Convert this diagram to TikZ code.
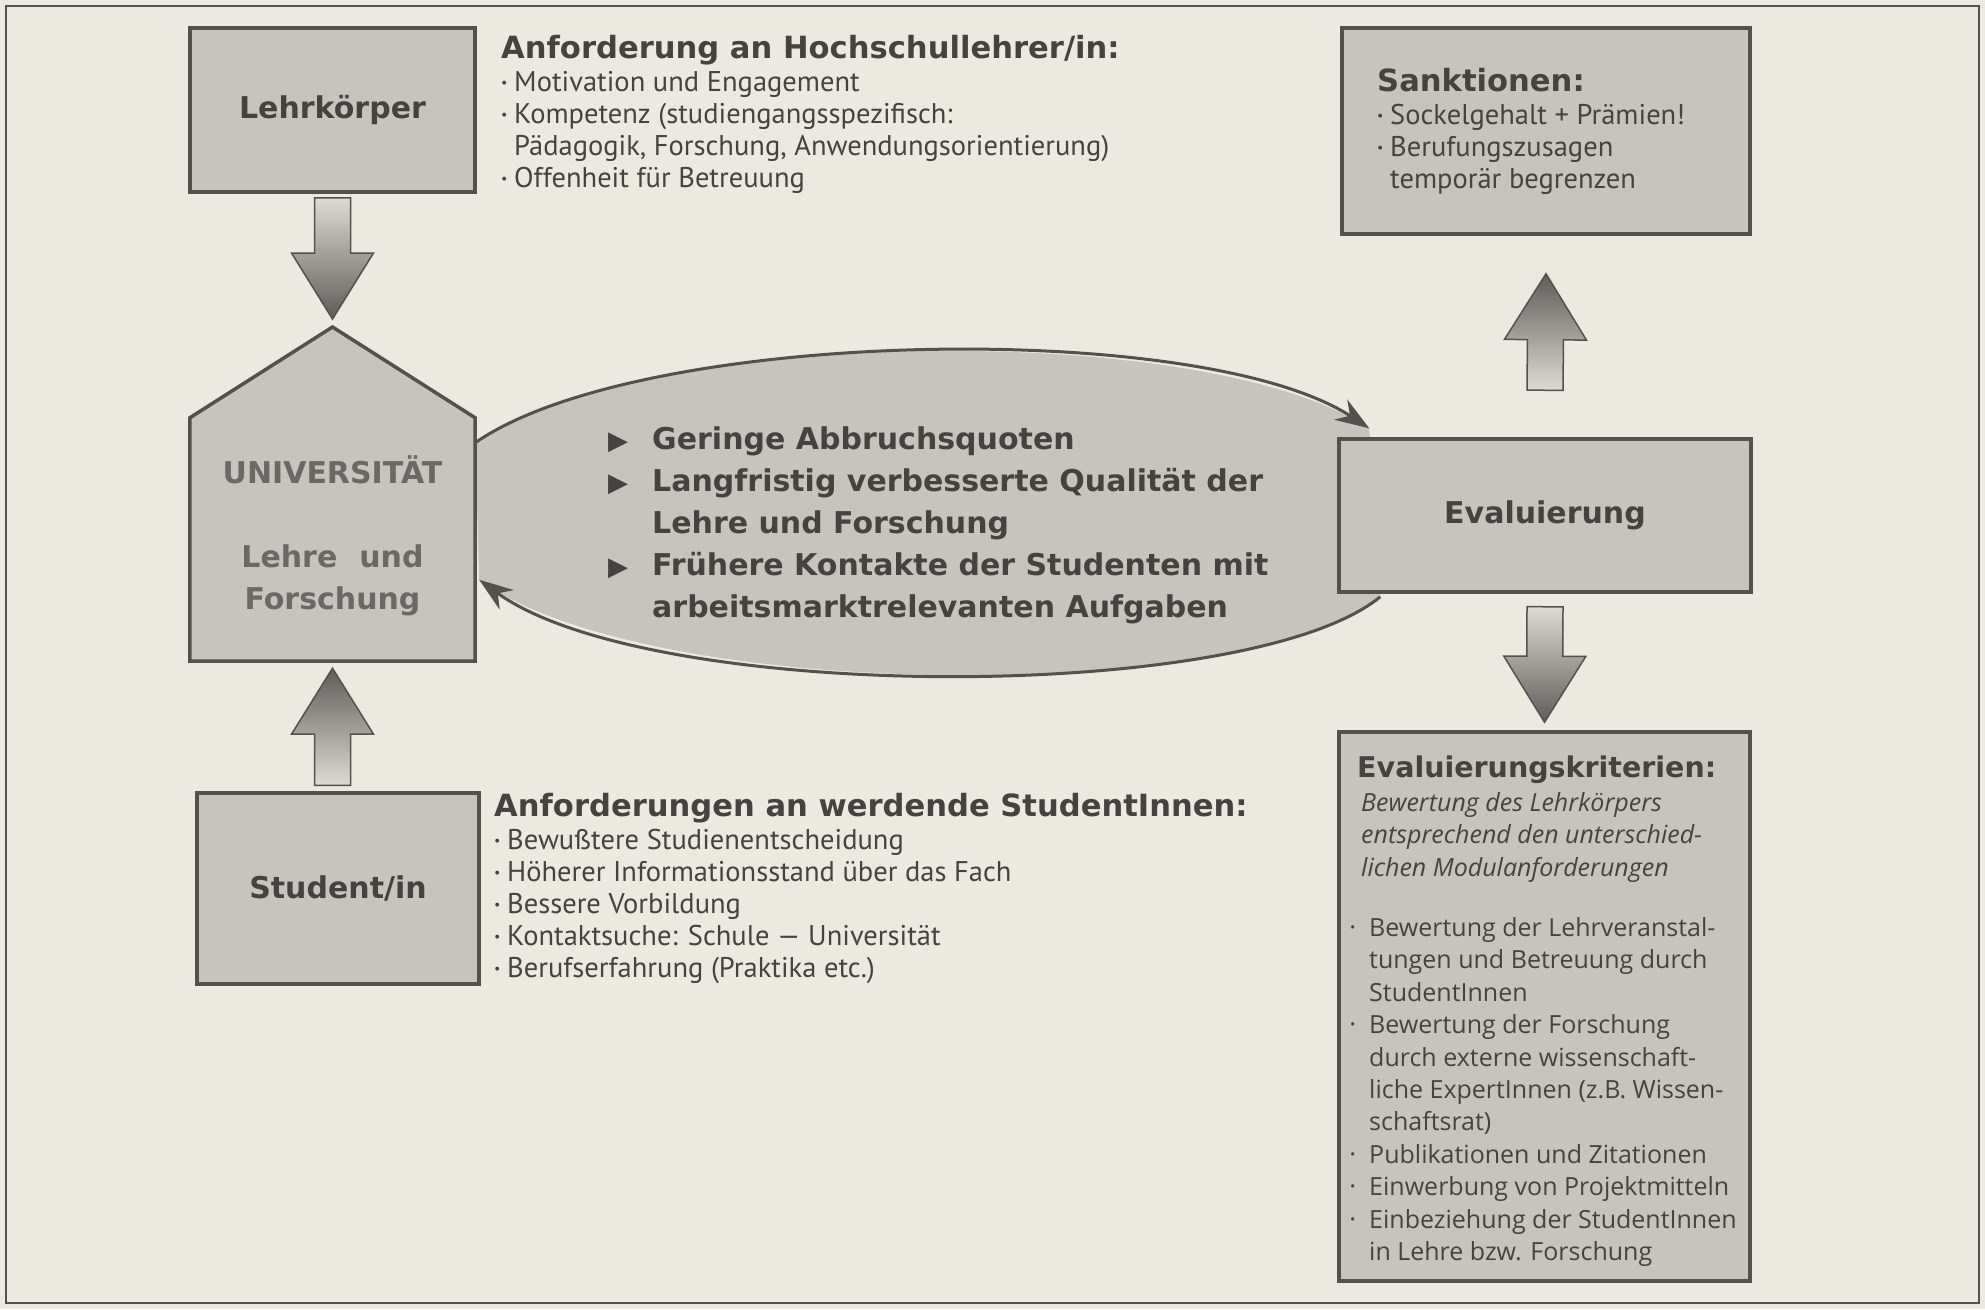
\documentclass[tikz,border=0pt]{standalone}
\usepackage{fontspec}
\setmainfont{PT Sans}
\newfontfamily\widefont{Open Sans}
\newfontfamily\symfont{DejaVu Sans}
\newfontfamily\boldfam{DejaVu Sans}
\usetikzlibrary{calc,arrows.meta,backgrounds}
\definecolor{paper}{HTML}{ECE9E0}
\definecolor{boxfill}{HTML}{C7C4BD}
\definecolor{ink}{HTML}{454340}
\definecolor{edge}{HTML}{53504D}
\definecolor{housetext}{HTML}{6B6865}
\definecolor{arrowlight}{HTML}{DEDBD5}
\definecolor{arrowdark}{HTML}{5F5C59}
\newcommand\headf{\boldfam\bfseries\fontsize{30.6}{34}\selectfont}
\newcommand\bul{\makebox[13pt][l]{\raisebox{0.3ex}{\fontsize{14}{14}\selectfont•}}}
\newcommand\ind{\hspace*{13pt}}
\newcommand\kbul{\makebox[19pt][l]{\raisebox{0.3ex}{\fontsize{14}{14}\selectfont•}}}
\newcommand\kind{\hspace*{19pt}}
\newcommand\tri{\makebox[44pt][l]{{\symfont\fontsize{26}{26}\selectfont ▶}}}
\newcommand\tind{\hspace*{44pt}}
\newcommand{\blockarrow}[3]{%
  \coordinate (ba-h) at ($(#2)!66pt!(#1)$);
  \path[draw=edge, line width=1.5pt, #3]
    ($(#1)!18pt!90:(#2)$) -- ($(ba-h)!18pt!90:(#2)$) -- ($(ba-h)!41pt!90:(#2)$) -- (#2)
    -- ($(ba-h)!41pt!-90:(#2)$) -- ($(ba-h)!18pt!-90:(#2)$) -- ($(#1)!18pt!-90:(#2)$) -- cycle;
}
\begin{document}
\begin{tikzpicture}[x=1pt,y=-1pt,
  boxstyle/.style={rectangle, draw=edge, line width=3.5pt, fill=boxfill, inner sep=0pt, text=ink},
  boxlabel/.style={font=\boldfam\bfseries\fontsize{30}{36}\selectfont, text=ink},
  txt/.style={anchor=north west, inner sep=0pt, align=left, text=ink, font=\fontsize{28.5}{32}\selectfont},
  flow/.style={draw=edge, line width=3pt, -{Stealth[length=34pt,width=24pt]}},
  downshade/.style={top color=arrowlight, bottom color=arrowdark},
  upshade/.style={top color=arrowdark, bottom color=arrowlight},
]
\useasboundingbox (0,0) rectangle (1985,1309);
\begin{scope}[on background layer]
  \fill[paper] (0,0) rectangle (1985,1309);
\end{scope}
\draw[edge, line width=2pt] (6,6) rectangle (1979,1303);

% boxes
\node[boxstyle, boxlabel, minimum width=285pt, minimum height=164pt] (lehr) at (332.5,110) {Lehrkörper};
\node[rectangle, inner sep=0pt, minimum width=285pt, minimum height=243pt] (uni) at (332.5,539.5) {};
\coordinate (uniapex) at (332.5,327);
\draw[draw=edge, line width=3.5pt, fill=boxfill, line join=miter]
  (uni.south west) -- (uni.north west) -- (uniapex) -- (uni.north east) -- (uni.south east) -- cycle;
\node[anchor=north, inner sep=0pt, align=center, text=housetext,
      font=\boldfam\bfseries\fontsize{30}{42}\selectfont] (unitext) at (332.5,455)
  {UNIVERSITÄT\\[42pt]Lehre\hspace{22pt}und\\Forschung};
\node[boxstyle, boxlabel, minimum width=282pt, minimum height=191pt] (student) at (338,888.5) {Student/in};
\node[boxstyle, minimum width=408pt, minimum height=206pt] (sank) at (1546,131) {};
\node[boxstyle, boxlabel, minimum width=412pt, minimum height=153pt] (eval) at (1545,515.5) {Evaluierung};
\node[boxstyle, minimum width=411pt, minimum height=549pt] (krit) at (1544.5,1006.5) {};

% text blocks
\node[txt] (hoch) at (501,35) {%
  {\headf Anforderung an Hochschullehrer/in:}\\[1pt]
  \bul Motivation und Engagement\\
  \bul Kompetenz (studiengangsspezifisch:\\
  \ind Pädagogik, Forschung, Anwendungsorientierung)\\
  \bul Offenheit für Betreuung};
\node[txt] (stud) at (494,793) {%
  {\headf Anforderungen an werdende StudentInnen:}\\[1pt]
  \bul Bewußtere Studienentscheidung\\
  \bul Höherer Informationsstand über das Fach\\
  \bul Bessere Vorbildung\\
  \bul Kontaktsuche: Schule — Universität\\
  \bul Berufserfahrung (Praktika etc.)};
\node[txt] (sanktext) at (1377,68) {%
  {\headf Sanktionen:}\\[1pt]
  \bul Sockelgehalt + Prämien!\\
  \bul Berufungszusagen\\
  \ind temporär begrenzen};
\node[txt, font=\widefont\fontsize{25}{32.4}\selectfont] (krittext) at (1350,756) {%
  \hspace*{7pt}{\boldfam\bfseries\fontsize{28.5}{32}\selectfont Evaluierungskriterien:}\\[1pt]
  \hspace*{11pt}\itshape Bewertung des Lehrkörpers\\
  \hspace*{11pt}\itshape entsprechend den unterschied-\\
  \hspace*{11pt}\itshape lichen Modulanforderungen\\[28pt]
  \kbul Bewertung der Lehrveranstal-\\
  \kind tungen und Betreuung durch\\
  \kind StudentInnen\\
  \kbul Bewertung der Forschung\\
  \kind durch externe wissenschaft-\\
  \kind liche ExpertInnen (z.B. Wissen-\\
  \kind schaftsrat)\\
  \kbul Publikationen und Zitationen\\
  \kbul Einwerbung von Projektmitteln\\
  \kbul Einbeziehung der StudentInnen\\
  \kind in Lehre bzw. Forschung};

% ellipse
\coordinate (ts) at ($(uni.north east)+(0,25)$);
\coordinate (te) at ($(eval.north west)+(32,-9)$);
\coordinate (bs) at ($(eval.south west)+(43,3)$);
\coordinate (be) at ($(uni.north east)+(4,162)$);
\begin{scope}[on background layer]
  \fill[boxfill] (ts) .. controls (640,328) and (1200,318) .. (te) -- (bs)
     .. controls (1250,704) and (650,704) .. (be) -- cycle;
\end{scope}
\draw[flow] (ts) .. controls (640,328) and (1200,318) .. (te);
\draw[flow] (bs) .. controls (1250,704) and (650,704) .. (be);
\node[txt, font=\boldfam\bfseries\fontsize{30}{42}\selectfont] (goals) at (608,426) {%
  \tri Geringe Abbruchsquoten\\
  \tri Langfristig verbesserte Qualität der\\
  \tind Lehre und Forschung\\
  \tri Frühere Kontakte der Studenten mit\\
  \tind arbeitsmarktrelevanten Aufgaben};

% block arrows
\coordinate (a1s) at ($(lehr.south)+(0,4)$);
\coordinate (a1t) at ($(uniapex)+(0,-8)$);
\blockarrow{a1s}{a1t}{downshade}
\coordinate (a2s) at ($(uni.south |- student.north)+(0,-6)$);
\coordinate (a2t) at ($(uni.south)+(0,7)$);
\blockarrow{a2s}{a2t}{upshade}
\coordinate (a3s) at ($(eval.north)+(0,-47)$);
\coordinate (a3t) at ($(sank.south)+(0,38)$);
\blockarrow{a3s}{a3t}{upshade}
\coordinate (a4s) at ($(eval.south)+(0,13)$);
\coordinate (a4t) at ($(krit.north)+(0,-8)$);
\blockarrow{a4s}{a4t}{downshade}
\end{tikzpicture}
\end{document}
